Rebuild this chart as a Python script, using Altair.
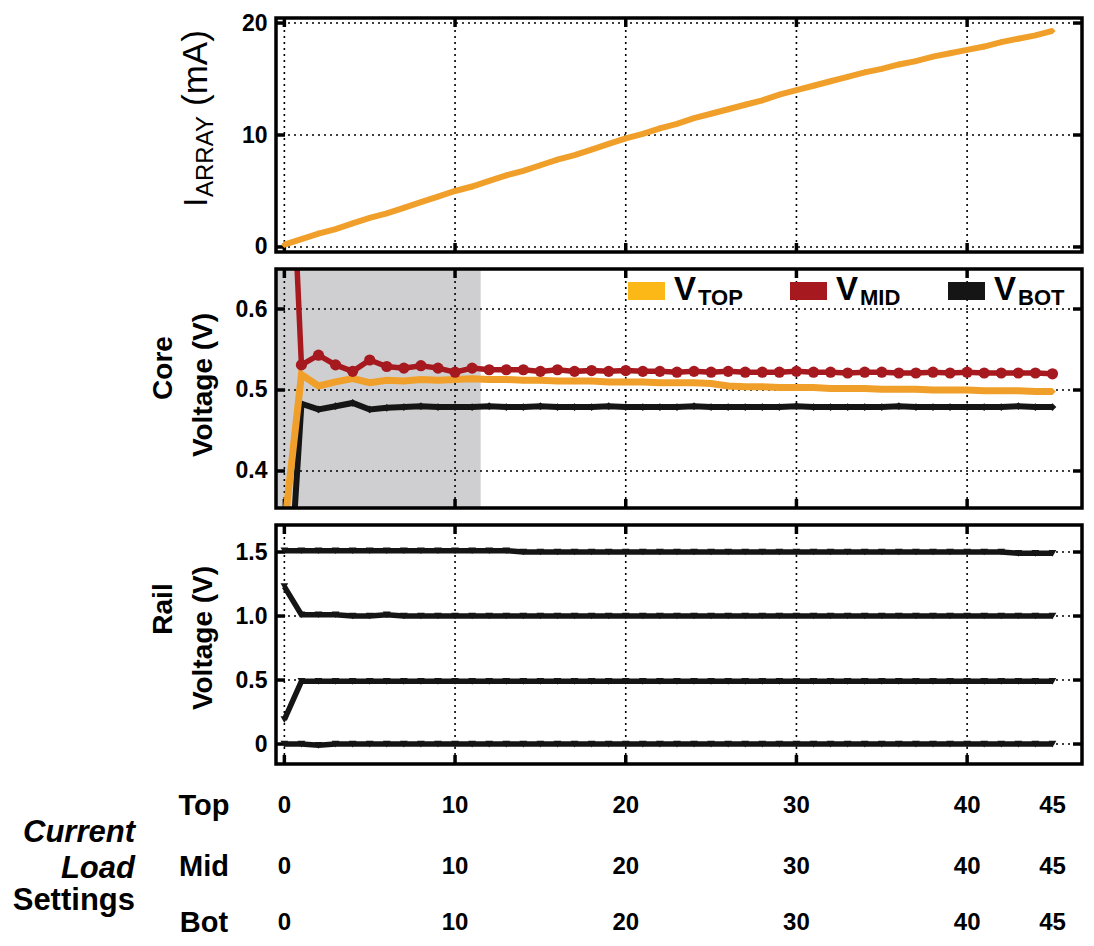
import altair as alt
import pandas as pd

# ---------------- data ----------------
steps = list(range(46))

i_array = [0.2, 0.7, 1.2, 1.6, 2.1, 2.6, 3.0, 3.5, 4.0, 4.5,
           5.0, 5.4, 5.9, 6.4, 6.8, 7.3, 7.8, 8.2, 8.7, 9.2,
           9.7, 10.1, 10.6, 11.0, 11.5, 11.9, 12.3, 12.7, 13.1, 13.6,
           14.0, 14.4, 14.8, 15.2, 15.6, 15.9, 16.3, 16.6, 17.0, 17.3,
           17.6, 17.9, 18.3, 18.6, 18.9, 19.3]

v_top = [0.33, 0.519, 0.505, 0.510, 0.514, 0.509, 0.512, 0.511, 0.513, 0.512,
         0.513, 0.514, 0.513, 0.513, 0.512, 0.512, 0.511, 0.511, 0.511, 0.510,
         0.510, 0.510, 0.509, 0.509, 0.509, 0.508, 0.505, 0.504, 0.504, 0.503,
         0.503, 0.503, 0.502, 0.502, 0.502, 0.501, 0.501, 0.501, 0.500, 0.500,
         0.500, 0.499, 0.499, 0.499, 0.498, 0.498]

v_mid = [1.0, 0.531, 0.543, 0.531, 0.523, 0.537, 0.529, 0.527, 0.530, 0.527,
         0.522, 0.527, 0.525, 0.525, 0.525, 0.523, 0.525, 0.523, 0.524, 0.523,
         0.524, 0.523, 0.523, 0.522, 0.523, 0.522, 0.523, 0.522, 0.522, 0.522,
         0.523, 0.522, 0.522, 0.521, 0.522, 0.522, 0.521, 0.521, 0.522, 0.521,
         0.522, 0.521, 0.521, 0.521, 0.521, 0.520]

v_bot = [0.15, 0.483, 0.476, 0.480, 0.484, 0.476, 0.478, 0.479, 0.480, 0.479,
         0.479, 0.479, 0.480, 0.479, 0.479, 0.480, 0.479, 0.479, 0.479, 0.480,
         0.479, 0.479, 0.479, 0.479, 0.480, 0.479, 0.479, 0.479, 0.479, 0.479,
         0.480, 0.479, 0.479, 0.479, 0.479, 0.479, 0.480, 0.479, 0.479, 0.479,
         0.479, 0.479, 0.479, 0.480, 0.479, 0.479]

rail_1 = [1.51, 1.51, 1.51, 1.51, 1.51, 1.51, 1.51, 1.51, 1.51, 1.51,
          1.51, 1.51, 1.51, 1.51, 1.50, 1.50, 1.50, 1.50, 1.50, 1.50,
          1.50, 1.50, 1.50, 1.50, 1.50, 1.50, 1.50, 1.50, 1.50, 1.50,
          1.50, 1.50, 1.50, 1.50, 1.50, 1.50, 1.50, 1.50, 1.50, 1.50,
          1.50, 1.50, 1.50, 1.49, 1.49, 1.49]

rail_2 = [1.23, 1.01, 1.01, 1.01, 1.00, 1.00, 1.01, 1.00, 1.00, 1.00,
          1.00, 1.00, 1.00, 1.00, 1.00, 1.00, 1.00, 1.00, 1.00, 1.00,
          1.00, 1.00, 1.00, 1.00, 1.00, 1.00, 1.00, 1.00, 1.00, 1.00,
          1.00, 1.00, 1.00, 1.00, 1.00, 1.00, 1.00, 1.00, 1.00, 1.00,
          1.00, 1.00, 1.00, 1.00, 1.00, 1.00]

rail_3 = [0.19, 0.49, 0.49, 0.49, 0.49, 0.49, 0.49, 0.49, 0.49, 0.49,
          0.49, 0.49, 0.49, 0.49, 0.49, 0.49, 0.49, 0.49, 0.49, 0.49,
          0.49, 0.49, 0.49, 0.49, 0.49, 0.49, 0.49, 0.49, 0.49, 0.49,
          0.49, 0.49, 0.49, 0.49, 0.49, 0.49, 0.49, 0.49, 0.49, 0.49,
          0.49, 0.49, 0.49, 0.49, 0.49, 0.49]

rail_4 = [0.00, 0.00, -0.01, 0.00, 0.00, 0.00, 0.00, 0.00, 0.00, 0.00,
          0.00, 0.00, 0.00, 0.00, 0.00, 0.00, 0.00, 0.00, 0.00, 0.00,
          0.00, 0.00, 0.00, 0.00, 0.00, 0.00, 0.00, 0.00, 0.00, 0.00,
          0.00, 0.00, 0.00, 0.00, 0.00, 0.00, 0.00, 0.00, 0.00, 0.00,
          0.00, 0.00, 0.00, 0.00, 0.00, 0.00]

x_grid = [0, 10, 20, 30, 40]
y_ticks_top = [0, 10, 20]
y_ticks_core = [0.4, 0.5, 0.6]
y_ticks_rail = [0, 0.5, 1.0, 1.5]
shade_end = 11.5

table_rows = ["Top", "Mid", "Bot"]
table_ticks = [0, 10, 20, 30, 40, 45]
side_words = ["Current", "Load", "Settings"]

series_names = ["V_TOP", "V_MID", "V_BOT"]
legend_subs = ["TOP", "MID", "BOT"]

# ---------------- style ----------------
FONT = "Liberation Sans"
W = 806
XDOM = [-0.49, 46.73]
ORANGE = "#F0A02A"
GOLD = "#FBB817"
RED = "#A6191E"
BLACK = "#151515"
DASH = [2, 4]

xs = alt.Scale(domain=XDOM, nice=False, zero=False)


def X(field):
    return alt.X(field, scale=xs, axis=None)


def make_y(ydom, yvals, fmt_expr):
    ys = alt.Scale(domain=ydom, nice=False, zero=False)
    ax = alt.Axis(values=yvals, title=None, grid=False, ticks=False, tickSize=0,
                  domain=False, labelPadding=9, labelFont=FONT, labelFontSize=23,
                  labelFontWeight="bold", labelColor="black", labelExpr=fmt_expr)

    def Y(field):
        return alt.Y(field, scale=ys, axis=ax)
    return Y


def frame(Y, yvals, H):
    xg = pd.DataFrame({"gx": x_grid})
    yg = pd.DataFrame({"gy": yvals})
    vgrid = alt.Chart(xg).mark_rule(color="black", strokeDash=DASH, strokeWidth=1.6).encode(
        x=X("gx:Q"), y=alt.value(0), y2=alt.value(H))
    hgrid = alt.Chart(yg).mark_rule(color="black", strokeDash=DASH, strokeWidth=1.6).encode(
        y=Y("gy:Q"), x=alt.value(0), x2=alt.value(W))
    t1 = alt.Chart(xg).mark_rule(color="black", strokeWidth=3.5).encode(
        x=X("gx:Q"), y=alt.value(0), y2=alt.value(9))
    t2 = alt.Chart(xg).mark_rule(color="black", strokeWidth=3.5).encode(
        x=X("gx:Q"), y=alt.value(H - 9), y2=alt.value(H))
    t3 = alt.Chart(yg).mark_rule(color="black", strokeWidth=3.5).encode(
        y=Y("gy:Q"), x=alt.value(0), x2=alt.value(9))
    t4 = alt.Chart(yg).mark_rule(color="black", strokeWidth=3.5).encode(
        y=Y("gy:Q"), x=alt.value(W - 9), x2=alt.value(W))
    return [vgrid, hgrid, t1, t2, t3, t4]


def border(H):
    return alt.Chart(pd.DataFrame({"b": [1]})).mark_rect(
        filled=False, stroke="black", strokeWidth=3.5, fillOpacity=0).encode(
        x=alt.value(0), x2=alt.value(W), y=alt.value(0), y2=alt.value(H))


def label(text, x, y, size, weight="bold", angle=0, align="center",
          baseline="alphabetic", style="normal"):
    return alt.Chart(pd.DataFrame({"t": [text]})).mark_text(
        font=FONT, fontSize=size, fontWeight=weight, angle=angle, align=align,
        baseline=baseline, fontStyle=style, color="black").encode(
        text="t:N", x=alt.value(x), y=alt.value(y))


# ---------------- panel 1: I_ARRAY ----------------
H1 = 234
Y1 = make_y([-0.45, 20.45], y_ticks_top, "format(datum.value, 'd')")
df1 = pd.DataFrame({"x": steps, "I": i_array})
p1_line = alt.Chart(df1).mark_line(color=ORANGE, strokeWidth=6, clip=True).encode(
    x=X("x:Q"), y=Y1("I:Q"))
p1_pts = alt.Chart(df1).mark_point(color=ORANGE, filled=True, shape="diamond", size=40,
                                   opacity=1, clip=True).encode(x=X("x:Q"), y=Y1("I:Q"))
p1_titles = [
    label("I", -69, 189, 34, weight="normal", angle=270, align="left"),
    label("ARRAY", -63, 179, 24, weight="normal", angle=270, align="left"),
    label("(mA)", -69, 88, 35, weight="normal", angle=270, align="left"),
]
panel1 = alt.layer(*frame(Y1, y_ticks_top, H1), p1_line, p1_pts, *p1_titles,
                   border(H1)).properties(width=W, height=H1)

# ---------------- panel 2: core voltages ----------------
H2 = 239
Y2 = make_y([0.3543, 0.6494], y_ticks_core, "format(datum.value, '.1f')")
core_rows = []
for name, vals in zip(series_names, [v_top, v_mid, v_bot]):
    for xv, vv in zip(steps, vals):
        core_rows.append({"x": xv, "V": vv, "series": name})
df2 = pd.DataFrame(core_rows)
color2 = alt.Color("series:N", scale=alt.Scale(domain=series_names, range=[ORANGE, RED, BLACK]),
                   legend=None)
shade = alt.Chart(pd.DataFrame({"s0": [XDOM[0]], "s1": [shade_end]})).mark_rect(
    color="#cfcfd1").encode(x=X("s0:Q"), x2="s1:Q", y=alt.value(0), y2=alt.value(H2))

core_layers = []
marker_style = {"V_TOP": ("diamond", 45, 7), "V_MID": ("circle", 125, 5.5),
                "V_BOT": ("diamond", 60, 6)}
for name in ["V_BOT", "V_TOP", "V_MID"]:
    d = df2[df2["series"] == name]
    shp, sz, lw = marker_style[name]
    core_layers.append(alt.Chart(d).mark_line(strokeWidth=lw, clip=True).encode(
        x=X("x:Q"), y=Y2("V:Q"), color=color2))
    core_layers.append(alt.Chart(d).mark_point(filled=True, shape=shp, size=sz, opacity=1,
                                               clip=True).encode(
        x=X("x:Q"), y=Y2("V:Q"), color=color2))

legend_layers = []
sw_x = [352, 514, 672]
sw_cols = [GOLD, RED, BLACK]
for sub, x0, col in zip(legend_subs, sw_x, sw_cols):
    legend_layers.append(alt.Chart(pd.DataFrame({"k": [sub]})).mark_rect(color=col).encode(
        x=alt.value(x0), x2=alt.value(x0 + 37), y=alt.value(13), y2=alt.value(31)))
    legend_layers.append(label("V", x0 + 46, 31, 33, align="left"))
    legend_layers.append(label(sub, x0 + 70, 36, 22, align="left"))

p2_titles = [
    label("Core", -104, 99, 28, angle=270),
    label("Voltage (V)", -64, 116, 28, angle=270),
]
panel2 = alt.layer(shade, *frame(Y2, y_ticks_core, H2), *core_layers, *legend_layers,
                   *p2_titles, border(H2)).properties(width=W, height=H2)

# ---------------- panel 3: rail voltages ----------------
H3 = 239
Y3 = make_y([-0.156, 1.711], y_ticks_rail,
            "datum.value == 0 ? '0' : format(datum.value, '.1f')")
rail_rows = []
for k, vals in enumerate([rail_1, rail_2, rail_3, rail_4]):
    for xv, vv in zip(steps, vals):
        rail_rows.append({"x": xv, "V": vv, "rail": "r%d" % k})
df3 = pd.DataFrame(rail_rows)
r_line = alt.Chart(df3).mark_line(color=BLACK, strokeWidth=5.5, clip=True).encode(
    x=X("x:Q"), y=Y3("V:Q"), detail="rail:N")
r_pts = alt.Chart(df3).mark_point(color=BLACK, filled=True, shape="triangle-down", size=60,
                                  opacity=1, clip=True).encode(x=X("x:Q"), y=Y3("V:Q"))
p3_titles = [
    label("Rail", -104, 84, 28, angle=270),
    label("Voltage (V)", -64, 113, 28, angle=270),
]
panel3 = alt.layer(*frame(Y3, y_ticks_rail, H3), r_line, r_pts, *p3_titles,
                   border(H3)).properties(width=W, height=H3)

# ---------------- table of current load settings ----------------
H4 = 140
row_y = [25, 86, 142]
tbl_layers = []
for r, yv in zip(table_rows, row_y):
    dft = pd.DataFrame({"x": table_ticks, "lab": [str(v) for v in table_ticks]})
    tbl_layers.append(alt.Chart(dft).mark_text(font=FONT, fontSize=24, fontWeight="bold",
                                               baseline="middle", color="black").encode(
        x=X("x:Q"), y=alt.value(yv), text="lab:N"))
    tbl_layers.append(label(r, -72, yv, 29, baseline="middle"))
side_y = [52, 88, 120]
for wd, yv in zip(side_words, side_y):
    st = "normal" if wd == "Settings" else "italic"
    tbl_layers.append(label(wd, -141, yv, 31, align="right", baseline="middle", style=st))

table = alt.layer(*tbl_layers).properties(width=W, height=H4)

chart = alt.vconcat(panel1, panel2, panel3, table, spacing=17, bounds="flush").properties(
    padding={"left": 4, "top": 4, "right": 0, "bottom": 0}
).configure(background="white").configure_view(strokeWidth=0, stroke="transparent")

chart.save("out.html", embed_options={"renderer": "svg", "actions": False})
